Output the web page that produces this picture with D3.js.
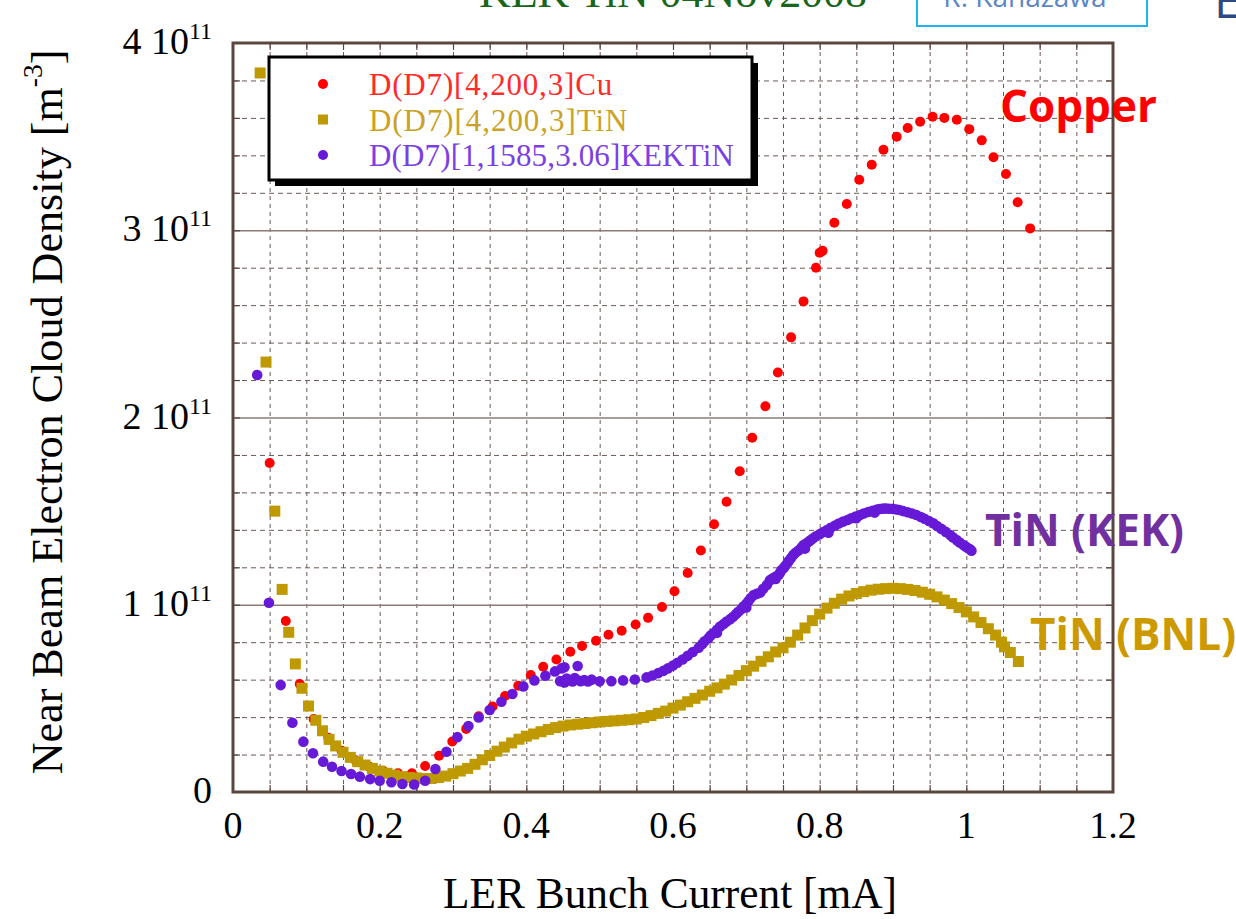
<!DOCTYPE html>
<html>
<head>
<meta charset="utf-8">
<script src="https://cdn.jsdelivr.net/npm/d3@7"></script>
<style>
  body { margin: 0; background: #fff; }
  svg { display: block; }
</style>
</head>
<body>
<div id="chart"></div>
<script>
// axis ticks (y in units of 1e11 m^-3)
const xTicks = [0, 0.2, 0.4, 0.6, 0.8, 1, 1.2]
const yTicks = [0, 1, 2, 3, 4]

// D(D7)[4,200,3]Cu  -> [current mA, density 1e11]
const cuPoints = [
  [0.050,1.757],[0.072,0.913],[0.091,0.577],[0.110,0.390],[0.130,0.290],
  [0.148,0.220],[0.167,0.170],[0.186,0.135],[0.205,0.112],[0.225,0.100],
  [0.244,0.100],[0.262,0.139],[0.281,0.194],[0.299,0.270],[0.318,0.337],
  [0.335,0.404],[0.354,0.457],[0.371,0.513],[0.389,0.567],[0.406,0.625],
  [0.423,0.669],[0.441,0.708],[0.460,0.749],[0.476,0.780],[0.495,0.808],
  [0.512,0.840],[0.530,0.861],[0.549,0.895],[0.566,0.930],[0.585,0.988],
  [0.602,1.072],[0.620,1.170],[0.638,1.290],[0.656,1.430],[0.673,1.550],
  [0.691,1.713],[0.708,1.892],[0.726,2.060],[0.743,2.240],[0.761,2.428],
  [0.778,2.620],[0.795,2.800],[0.800,2.880],[0.804,2.890],[0.820,3.040],
  [0.837,3.140],[0.854,3.270],[0.871,3.350],[0.887,3.430],[0.905,3.500],
  [0.920,3.546],[0.937,3.580],[0.954,3.606],[0.970,3.600],[0.987,3.590],
  [1.004,3.540],[1.021,3.480],[1.037,3.390],[1.054,3.300],[1.070,3.150],
  [1.087,3.010]
]

// D(D7)[4,200,3]TiN
const bnlPoints = [
  [0.037,3.840],[0.045,2.296],[0.057,1.500],[0.067,1.082],[0.076,0.853],
  [0.085,0.684],[0.094,0.554],[0.103,0.459],[0.113,0.383],[0.122,0.327],
  [0.131,0.281],[0.140,0.246],[0.150,0.212],[0.160,0.185],[0.170,0.162],
  [0.180,0.144],[0.190,0.126],[0.200,0.112],[0.210,0.100],[0.220,0.090],
  [0.230,0.082],[0.240,0.077],[0.250,0.075],[0.260,0.072],[0.270,0.072],
  [0.280,0.077],[0.290,0.085],[0.300,0.098],[0.310,0.112],[0.320,0.126],
  [0.330,0.148],[0.340,0.172],[0.350,0.195],[0.360,0.218],[0.370,0.240],
  [0.380,0.262],[0.390,0.282],[0.400,0.298],[0.410,0.310],[0.420,0.322],
  [0.430,0.334],[0.440,0.344],[0.450,0.352],[0.460,0.358],[0.470,0.362],
  [0.480,0.366],[0.490,0.370],[0.500,0.374],[0.510,0.377],[0.520,0.380],
  [0.530,0.383],[0.540,0.386],[0.550,0.390],[0.560,0.398],[0.570,0.408],
  [0.580,0.420],[0.590,0.432],[0.600,0.448],[0.610,0.464],[0.620,0.482],
  [0.630,0.500],[0.640,0.518],[0.650,0.538],[0.660,0.556],[0.670,0.576],
  [0.680,0.598],[0.690,0.622],[0.700,0.648],[0.710,0.672],[0.720,0.698],
  [0.730,0.722],[0.740,0.748],[0.750,0.770],[0.760,0.800],[0.770,0.838],
  [0.780,0.876],[0.790,0.915],[0.800,0.950],[0.810,0.982],[0.820,1.008],
  [0.830,1.030],[0.840,1.047],[0.850,1.060],[0.860,1.070],[0.870,1.078],
  [0.880,1.083],[0.890,1.086],[0.900,1.088],[0.910,1.086],[0.920,1.082],
  [0.930,1.076],[0.940,1.067],[0.950,1.056],[0.960,1.042],[0.970,1.025],
  [0.980,1.006],[0.990,0.985],[1.000,0.962],[1.010,0.935],[1.020,0.905],
  [1.030,0.872],[1.040,0.838],[1.048,0.800],[1.052,0.775],[1.060,0.745],
  [1.071,0.697]
]

// D(D7)[1,1585,3.06]KEKTiN
const kekPoints = [
  [0.033,2.227],[0.049,1.011],[0.065,0.571],[0.081,0.370],[0.096,0.269],
  [0.109,0.207],[0.123,0.162],[0.135,0.135],[0.148,0.112],[0.161,0.096],
  [0.173,0.082],[0.187,0.069],[0.200,0.060],[0.216,0.052],[0.231,0.043],
  [0.247,0.040],[0.262,0.060],[0.276,0.123],[0.291,0.215],[0.306,0.293],
  [0.321,0.352],[0.335,0.398],[0.350,0.438],[0.366,0.482],[0.381,0.523],
  [0.396,0.564],[0.411,0.596],[0.426,0.621],[0.439,0.644],[0.448,0.660],
  [0.452,0.666],[0.470,0.673],[0.446,0.592],[0.452,0.585],[0.458,0.598],
  [0.463,0.590],[0.468,0.600],[0.474,0.592],[0.479,0.598],[0.484,0.590],
  [0.489,0.600],[0.455,0.606],[0.466,0.609],[0.500,0.591],[0.516,0.592],
  [0.532,0.596],[0.548,0.601],[0.564,0.612],[0.572,0.622],[0.580,0.635],
  [0.587,0.647],[0.593,0.660],[0.600,0.675],[0.606,0.690],[0.613,0.708],
  [0.620,0.727],[0.627,0.748],[0.635,0.771],[0.640,0.790],[0.643,0.805],
  [0.648,0.820],[0.651,0.835],[0.655,0.848],[0.660,0.866],[0.664,0.883],
  [0.669,0.897],[0.673,0.910],[0.678,0.923],[0.682,0.936],[0.686,0.950],
  [0.689,0.962],[0.693,0.976],[0.696,0.990],[0.700,1.005],[0.703,1.020],
  [0.706,1.036],[0.710,1.052],[0.714,1.058],[0.719,1.065],[0.723,1.085],
  [0.728,1.105],[0.732,1.130],[0.735,1.138],[0.738,1.145],[0.741,1.152],
  [0.744,1.159],[0.746,1.172],[0.748,1.185],[0.751,1.196],[0.753,1.207],
  [0.756,1.221],[0.758,1.235],[0.761,1.250],[0.764,1.266],[0.767,1.278],
  [0.771,1.290],[0.775,1.305],[0.778,1.319],[0.782,1.328],[0.785,1.337],
  [0.788,1.346],[0.791,1.355],[0.795,1.366],[0.800,1.377],[0.805,1.388],
  [0.810,1.399],[0.815,1.411],[0.821,1.423],[0.826,1.434],[0.832,1.444],
  [0.838,1.453],[0.843,1.462],[0.849,1.471],[0.855,1.479],[0.860,1.487],
  [0.866,1.495],[0.872,1.502],[0.878,1.509],[0.882,1.511],[0.885,1.513],
  [0.888,1.514],[0.891,1.514],[0.895,1.513],[0.900,1.512],[0.905,1.509],
  [0.909,1.506],[0.914,1.500],[0.920,1.494],[0.926,1.487],[0.932,1.479],
  [0.938,1.469],[0.943,1.459],[0.949,1.447],[0.955,1.435],[0.960,1.420],
  [0.966,1.405],[0.972,1.389],[0.978,1.372],[0.982,1.359],[0.987,1.345],
  [0.991,1.332],[0.996,1.319],[0.999,1.311],[1.002,1.303],[1.005,1.296],
  [1.007,1.289],
  [0.660,0.850],[0.700,0.985],[0.740,1.138],[0.780,1.300],[0.812,1.385],
  [0.850,1.462],[0.875,1.492]
]

const legendLabels = ['D(D7)[4,200,3]Cu', 'D(D7)[4,200,3]TiN', 'D(D7)[1,1585,3.06]KEKTiN']

const W = 1236, H = 919
const plot = { left: 233, right: 1113, top: 43, bottom: 792 }
const cRed = '#ff0000', cGold = '#bf9900', cPurple = '#6619d6'
const gridColor = '#6b5a55', frameColor = '#5b463f'

const x = d3.scaleLinear().domain([0, 1.2]).range([plot.left, plot.right])
const y = d3.scaleLinear().domain([0, 4]).range([plot.bottom, plot.top])

const svg = d3.select('#chart').append('svg')
    .attr('width', W)
    .attr('height', H)

svg.append('rect').attr('width', W).attr('height', H).attr('fill', '#fff')

// slide header, cut off at the top edge as in the source slide
svg.append('text')
    .attr('x', 479).attr('y', 7)
    .attr('font-family', 'Liberation Serif')
    .attr('font-size', 42)
    .attr('fill', '#17661a')
    .attr('textLength', 388)
    .attr('lengthAdjust', 'spacingAndGlyphs')
    .text('KEK TiN 04Nov2008')

svg.append('rect')
    .attr('x', 917).attr('y', -10).attr('width', 230).attr('height', 36)
    .attr('fill', '#fff').attr('stroke', '#1fb4ef').attr('stroke-width', 2)
svg.append('text')
    .attr('x', 1025).attr('y', 7)
    .attr('text-anchor', 'middle')
    .attr('font-family', 'Open Sans')
    .attr('font-size', 28)
    .attr('fill', '#5b86c4')
    .text('R. Kanazawa')
svg.append('text')
    .attr('x', 1214).attr('y', 18)
    .attr('font-family', 'Open Sans')
    .attr('font-size', 48)
    .attr('fill', '#2c4a86')
    .text('E')

// grid
const xMinor = d3.range(1, 24).map(i => +(i * 0.05).toFixed(2))
const yAll = d3.range(1, 20).map(i => +(i * 0.2).toFixed(1))
const yMinor = yAll.filter(v => Math.abs(v - Math.round(v)) > 1e-6)
const yMajor = [1, 2, 3]
const plotH = plot.bottom - plot.top
const plotW = plot.right - plot.left

svg.append('g')
    .attr('class', 'grid')
    .attr('transform', `translate(0,${plot.bottom})`)
    .call(d3.axisBottom(x).tickValues(xMinor).tickSize(-plotH).tickFormat(''))
    .call(g => g.select('.domain').remove())
    .call(g => g.selectAll('line').attr('stroke', gridColor).attr('stroke-dasharray', '4,4'))

svg.append('g')
    .attr('class', 'grid')
    .attr('transform', `translate(${plot.left},0)`)
    .call(d3.axisLeft(y).tickValues(yMinor).tickSize(-plotW).tickFormat(''))
    .call(g => g.select('.domain').remove())
    .call(g => g.selectAll('line').attr('stroke', gridColor).attr('stroke-dasharray', '5,4'))

svg.append('g')
    .attr('class', 'grid')
    .attr('transform', `translate(${plot.left},0)`)
    .call(d3.axisLeft(y).tickValues(yMajor).tickSize(-plotW).tickFormat(''))
    .call(g => g.select('.domain').remove())
    .call(g => g.selectAll('line').attr('stroke', '#8a7b76').attr('stroke-width', 1.5))

// inward ticks on all sides
const tickLen = 7
const sides = [
    [d3.axisBottom(x).tickValues(xMinor), `translate(0,${plot.bottom})`],
    [d3.axisTop(x).tickValues(xMinor), `translate(0,${plot.top})`],
    [d3.axisLeft(y).tickValues(yAll), `translate(${plot.left},0)`],
    [d3.axisRight(y).tickValues(yAll), `translate(${plot.right},0)`]
]
sides.forEach(([ax, tr]) => {
    svg.append('g')
        .attr('transform', tr)
        .call(ax.tickSize(-tickLen).tickFormat(''))
        .call(g => g.select('.domain').remove())
        .call(g => g.selectAll('line').attr('stroke', frameColor).attr('stroke-width', 1.2))
})

// data marks
const marks = svg.append('g')

marks.selectAll('.cu')
    .data(cuPoints)
    .enter().append('circle')
    .attr('class', 'cu')
    .attr('cx', d => x(d[0]))
    .attr('cy', d => y(d[1]))
    .attr('r', 5)
    .attr('fill', cRed)

const sq = 11
marks.selectAll('.bnl')
    .data(bnlPoints)
    .enter().append('rect')
    .attr('class', 'bnl')
    .attr('x', d => x(d[0]) - sq / 2)
    .attr('y', d => y(d[1]) - sq / 2)
    .attr('width', sq)
    .attr('height', sq)
    .attr('fill', cGold)

marks.selectAll('.kek')
    .data(kekPoints)
    .enter().append('circle')
    .attr('class', 'kek')
    .attr('cx', d => x(d[0]))
    .attr('cy', d => y(d[1]))
    .attr('r', 5.3)
    .attr('fill', cPurple)

// frame
svg.append('rect')
    .attr('x', plot.left).attr('y', plot.top)
    .attr('width', plotW).attr('height', plotH)
    .attr('fill', 'none')
    .attr('stroke', frameColor)
    .attr('stroke-width', 3)

// tick labels
svg.append('g').selectAll('text')
    .data(xTicks)
    .enter().append('text')
    .attr('x', d => x(d))
    .attr('y', plot.bottom + 46)
    .attr('text-anchor', 'middle')
    .attr('font-family', 'Liberation Serif')
    .attr('font-size', 38)
    .attr('fill', '#000')
    .text(d => d)

const yLab = svg.append('g').selectAll('text')
    .data(yTicks)
    .enter().append('text')
    .attr('x', 212)
    .attr('y', d => y(d) + 11)
    .attr('text-anchor', 'end')
    .attr('font-family', 'Liberation Serif')
    .attr('font-size', 38)
    .attr('fill', '#000')
yLab.filter(d => d === 0).text('0')
yLab.filter(d => d !== 0).each(function (d) {
    const t = d3.select(this)
    t.append('tspan').text(`${d}\u00a010`)
    t.append('tspan').attr('font-size', 24).attr('dy', -15).text('11')
})

// axis titles, squeezed to the width seen in the picture
const xTitle = svg.append('text')
    .attr('font-family', 'Liberation Serif')
    .attr('font-size', 45)
    .attr('text-anchor', 'middle')
    .attr('fill', '#000')
    .text('LER Bunch Current [mA]')
const xw = xTitle.node().getComputedTextLength()
xTitle.attr('transform', `translate(670,908) scale(${454 / xw},1)`)

const yTitle = svg.append('text')
    .attr('font-family', 'Liberation Serif')
    .attr('font-size', 45)
    .attr('text-anchor', 'middle')
    .attr('fill', '#000')
yTitle.append('tspan').text('Near Beam Electron Cloud Density [m')
yTitle.append('tspan').attr('font-size', 28).attr('dy', -20).text('-3')
yTitle.append('tspan').attr('dy', 20).text(']')
const yw = yTitle.node().getBBox().width
yTitle.attr('transform', `translate(62,412) rotate(-90) scale(${725 / yw},1)`)

// legend
const lg = svg.append('g')
lg.append('rect')
    .attr('x', 275).attr('y', 63).attr('width', 483).attr('height', 123)
    .attr('fill', '#000')
lg.append('rect')
    .attr('x', 269).attr('y', 57).attr('width', 483).attr('height', 123)
    .attr('fill', '#fff').attr('stroke', '#000').attr('stroke-width', 3)

const legendColors = [cRed, cGold, cPurple]
const textColors = ['#ff2a2a', '#c9a227', '#7b3fe4']
legendLabels.forEach((lab, i) => {
    const cy = 84 + i * 35.5
    if (i === 1) {
        lg.append('rect')
            .attr('x', 318).attr('y', cy - 5).attr('width', 10).attr('height', 10)
            .attr('fill', legendColors[i])
    } else {
        lg.append('circle')
            .attr('cx', 323).attr('cy', cy).attr('r', 5)
            .attr('fill', legendColors[i])
    }
    lg.append('text')
        .attr('x', 369).attr('y', cy + 11)
        .attr('font-family', 'Liberation Serif')
        .attr('font-size', 31)
        .attr('fill', textColors[i])
        .attr('textLength', lab.length * 15.2)
        .attr('lengthAdjust', 'spacing')
        .text(lab)
})

// curve labels
const notes = [
    ['Copper', 1000, 122, '#ff0000'],
    ['TiN (KEK)', 985, 546, '#7030a0'],
    ['TiN (BNL)', 1030, 650, '#cc9900']
]
svg.append('g').selectAll('text')
    .data(notes)
    .enter().append('text')
    .attr('x', d => d[1])
    .attr('y', d => d[2])
    .attr('font-family', 'Open Sans')
    .attr('font-weight', 'bold')
    .attr('font-size', 44)
    .attr('fill', d => d[3])
    .text(d => d[0])
</script>
</body>
</html>
